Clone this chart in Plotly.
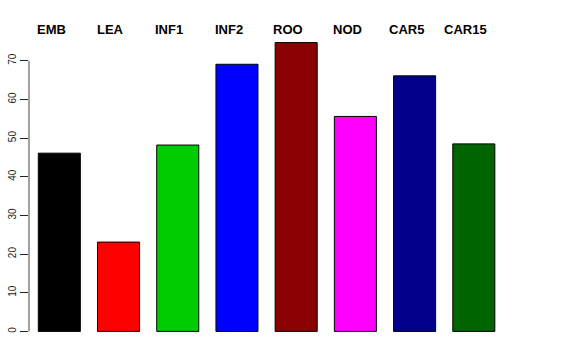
import plotly.graph_objects as go

categories = ["EMB", "LEA", "INF1", "INF2", "ROO", "NOD", "CAR5", "CAR15"]
values = [46.1, 23.1, 48.2, 69.1, 74.7, 55.6, 66.1, 48.5]
colors = ["#000000", "#FF0000", "#00CD00", "#0000FF", "#8B0000", "#FF00FF", "#00008B", "#006400"]
y_ticks = [0, 10, 20, 30, 40, 50, 60, 70]

positions = list(range(len(categories)))

fig = go.Figure()
fig.add_trace(go.Bar(
    x=positions, y=values,
    marker=dict(color=colors, line=dict(color="#000000", width=1)),
    width=0.71,
    showlegend=False,
    hoverinfo="skip",
))

for i, name in enumerate(categories):
    fig.add_annotation(
        x=i - 0.14, y=1, xref="x", yref="paper",
        text="<b>%s</b>" % name, showarrow=False,
        yanchor="middle", yshift=2,
        font=dict(family="Liberation Sans, Arial, sans-serif", size=13, color="#000000"),
    )

# y axis line spanning first to last tick (R style)
fig.add_shape(type="line", xref="paper", yref="y", x0=0, x1=0,
              y0=y_ticks[0], y1=y_ticks[-1], line=dict(color="#444444", width=1))

fig.update_layout(
    width=576, height=360,
    margin=dict(l=29, r=56, t=31, b=17, autoexpand=False),
    paper_bgcolor="white", plot_bgcolor="white",
    font=dict(family="Liberation Sans, Arial, sans-serif", color="#222222"),
    xaxis=dict(range=[-0.512, 7.78], showticklabels=False, ticks="",
               showgrid=False, zeroline=False, showline=False, automargin=False),
    yaxis=dict(range=[-3, 77.7], tickvals=y_ticks, ticktext=[str(v) for v in y_ticks],
               tickangle=-90, ticks="outside", ticklen=8, tickcolor="#222222",
               tickfont=dict(size=10, color="#222222"), automargin=False,
               showgrid=False, zeroline=False, showline=False),
)

fig.write_html("out.html", config={"displayModeBar": False},
               post_script="document.body.style.margin='0';")
